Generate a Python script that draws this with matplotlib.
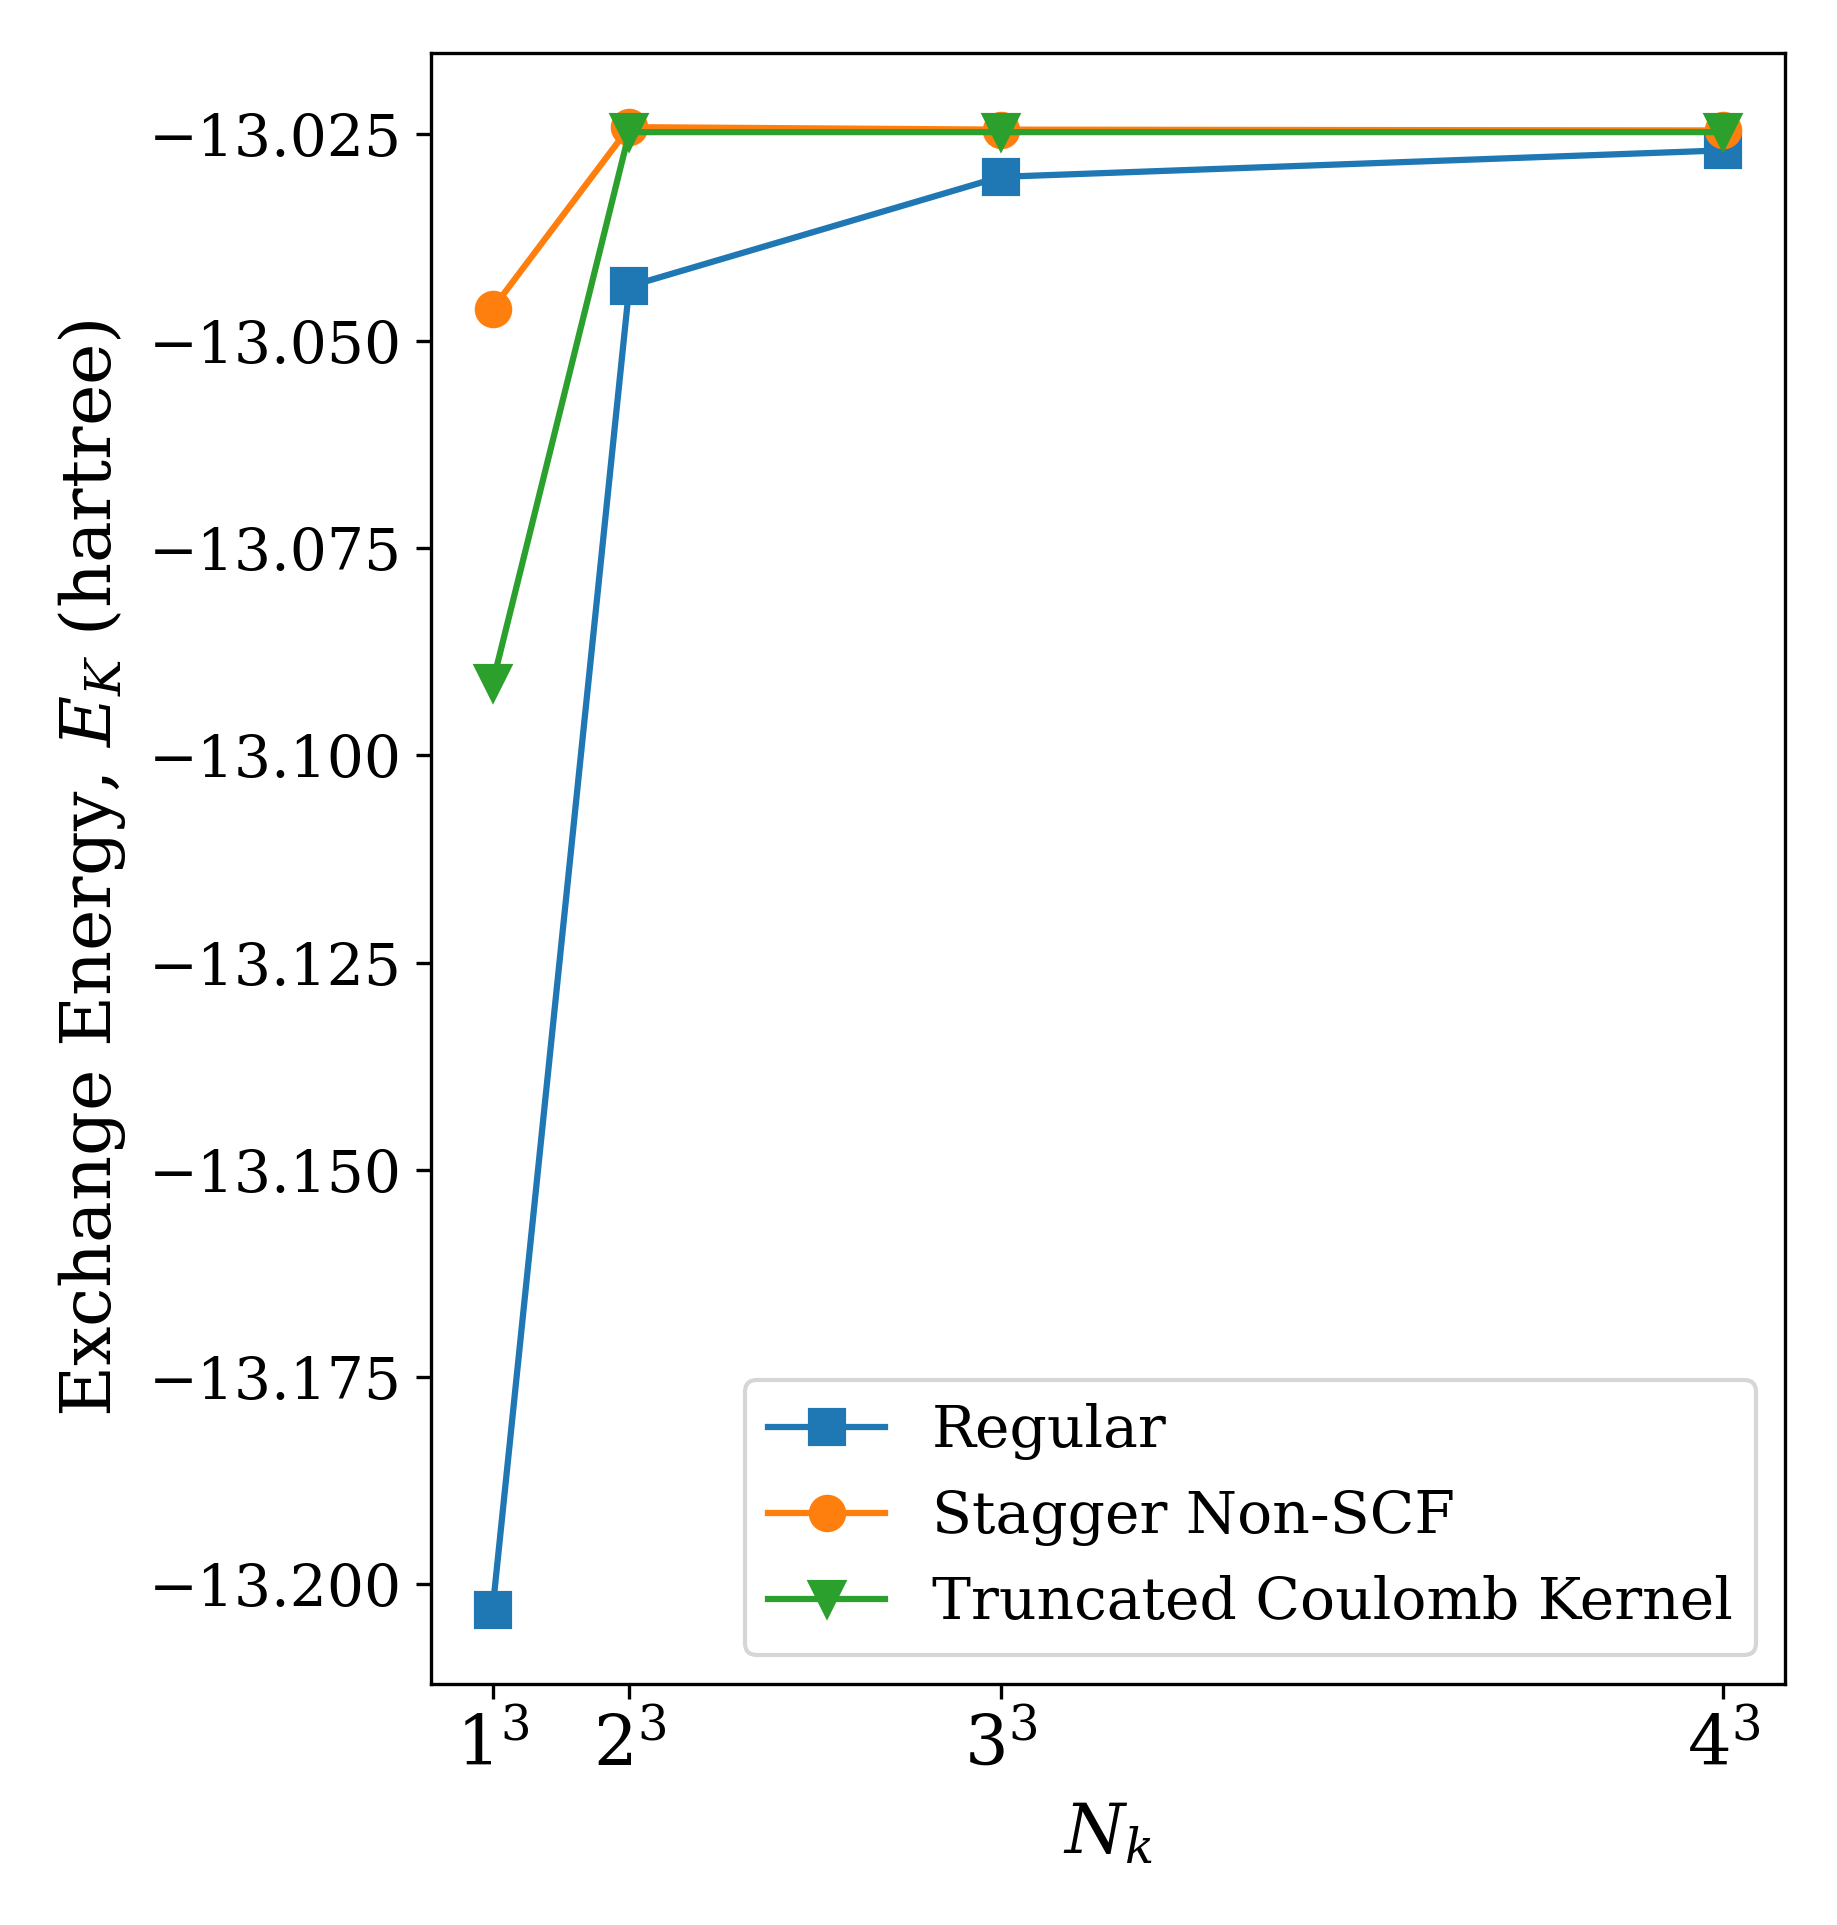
import numpy as np
import matplotlib
matplotlib.use("Agg")
import matplotlib.pyplot as plt

plt.rcParams['font.family'] = ['DejaVu Serif']
plt.rcParams['mathtext.fontset'] = 'dejavuserif'

# k-point grids (N_k = n^3)
nk = [1, 8, 27, 64]
nk_labels = ['$1^3$', '$2^3$', '$3^3$', '$4^3$']

# exchange energies (hartree)
e_regular = [-13.2031, -13.0434, -13.0302, -13.0270]
e_stagger = [-13.0461, -13.0242, -13.0245, -13.0246]
e_truncated = [-13.0913, -13.0248, -13.0248, -13.0248]

fig = plt.figure(figsize=(1837 / 300, 1925 / 300), dpi=300)
ax = fig.add_axes([431 / 1837, 1 - 1684 / 1925, (1785 - 431) / 1837, (1684 - 53) / 1925])

ax.plot(nk, e_regular, marker='s', markersize=8, label='Regular')
ax.plot(nk, e_stagger, marker='o', markersize=8, label='Stagger Non-SCF')
ax.plot(nk, e_truncated, marker='v', markersize=8, label='Truncated Coulomb Kernel')

ax.set_xticks(nk)
ax.set_xticklabels(nk_labels, fontsize=16.5)
ax.tick_params(axis='y', labelsize=14)
ax.set_xlabel('$N_k$', fontsize=16.5, labelpad=5)
ax.set_ylabel('Exchange Energy, $E_K$ (hartree)', fontsize=16.8, labelpad=5)
ax.legend(loc='lower right', fontsize=14)

fig.savefig('out.png', dpi=300)
